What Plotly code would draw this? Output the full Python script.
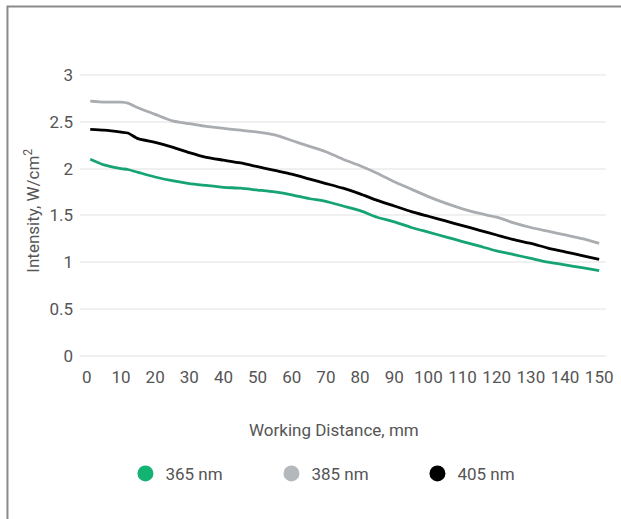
import plotly.graph_objects as go

# Working distance (mm) and intensity (W/cm²) per wavelength
distance_mm = [1, 5, 10, 12, 15, 20, 25, 30, 35, 40, 45, 50, 55, 60, 65, 70, 75,
               80, 85, 90, 95, 100, 105, 110, 115, 120, 125, 130, 135, 140, 145, 150]

intensity_365 = [2.10, 2.04, 2.00, 1.99, 1.96, 1.91, 1.87, 1.84, 1.82, 1.80, 1.79, 1.77,
                 1.75, 1.72, 1.68, 1.65, 1.60, 1.55, 1.48, 1.43, 1.37, 1.32, 1.27, 1.22,
                 1.17, 1.12, 1.08, 1.04, 1.00, 0.97, 0.94, 0.91]
intensity_385 = [2.72, 2.71, 2.71, 2.70, 2.65, 2.58, 2.51, 2.48, 2.45, 2.43, 2.41, 2.39,
                 2.36, 2.30, 2.24, 2.18, 2.10, 2.03, 1.95, 1.86, 1.78, 1.70, 1.63, 1.57,
                 1.52, 1.48, 1.42, 1.37, 1.33, 1.29, 1.25, 1.20]
intensity_405 = [2.42, 2.41, 2.39, 2.38, 2.32, 2.28, 2.23, 2.17, 2.12, 2.09, 2.06, 2.02,
                 1.98, 1.94, 1.89, 1.84, 1.79, 1.73, 1.66, 1.60, 1.54, 1.49, 1.44, 1.39,
                 1.34, 1.29, 1.24, 1.20, 1.15, 1.11, 1.07, 1.03]

series_names = ["365 nm", "385 nm", "405 nm"]
line_colors = ["#16a472", "#a9adb1", "#000000"]
dot_colors = ["#12b373", "#b3b8bd", "#000000"]

x_ticks = list(range(0, 151, 10))
y_ticks = [0, 0.5, 1, 1.5, 2, 2.5, 3]
y_tick_text = ["0", "0.5", "1", "1.5", "2", "2.5", "3"]

FONT = "Roboto, 'Open Sans', sans-serif"
TEXT = "#555555"

fig = go.Figure()
for name, vals, lc in zip(series_names, [intensity_365, intensity_385, intensity_405], line_colors):
    fig.add_trace(go.Scatter(x=distance_mm, y=vals, mode="lines", name=name,
                             line=dict(color=lc, width=2.8, shape="spline", smoothing=0.6),
                             showlegend=False, hoverinfo="x+y+name"))

# Round legend markers
for name, dc in zip(series_names, dot_colors):
    fig.add_trace(go.Scatter(x=[None], y=[None], mode="markers", name=name,
                             marker=dict(color=dc, size=16, symbol="circle")))

fig.update_layout(
    width=621, height=519,
    margin=dict(l=80, r=8, t=61, b=154),
    paper_bgcolor="white", plot_bgcolor="white",
    font=dict(family=FONT, size=17, color=TEXT),
    xaxis=dict(range=[-2, 152], tickvals=x_ticks, showgrid=False, zeroline=False,
               showline=False, ticks="", tickfont=dict(size=17, color=TEXT)),
    yaxis=dict(range=[-0.1, 3.15], tickvals=y_ticks, ticktext=y_tick_text,
               showgrid=True, gridcolor="#f0f0f0", gridwidth=1.5, zeroline=False,
               showline=False, ticks="", ticklabelstandoff=6,
               tickfont=dict(size=17, color=TEXT)),
    legend=dict(orientation="h", xref="container", yref="container",
                x=0.202, y=0.087, xanchor="left", yanchor="middle",
                entrywidth=101, entrywidthmode="pixels",
                font=dict(size=17, color=TEXT), itemclick=False),
    showlegend=True,
)

# Axis titles
fig.add_annotation(text="Working Distance, mm", xref="paper", yref="paper",
                   x=(337 - 80) / 533, y=-(430 - 365) / 304, showarrow=False,
                   font=dict(size=17, color=TEXT), xanchor="center", yanchor="middle")
fig.add_annotation(text="Intensity, W/cm<sup style='font-size:11px'>2</sup>",
                   xref="paper", yref="paper",
                   x=-(80 - 31) / 533, y=(365 - 211) / 304, showarrow=False, textangle=-90,
                   font=dict(size=17, color=TEXT), xanchor="center", yanchor="middle")

# Outer frame
fig.add_shape(type="rect", xref="paper", yref="paper",
              x0=-(80 - 6.5) / 533, x1=1.1, y0=-0.6, y1=(365 - 6.5) / 304,
              line=dict(color="#8a8a8a", width=2), fillcolor="rgba(0,0,0,0)", layer="below")

fig.write_html("out.html")
